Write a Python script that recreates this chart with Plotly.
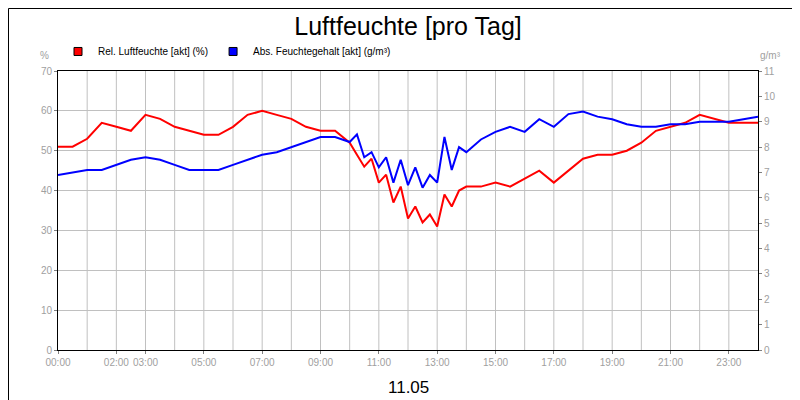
import plotly.graph_objects as go

hours = [0, 0.5, 1, 1.5, 2, 2.5, 3, 3.5, 4, 4.5, 5, 5.5, 6, 6.5, 7, 7.5, 8, 8.5, 9, 9.5, 10,
         10.25, 10.5, 10.75, 11, 11.25, 11.5, 11.75, 12, 12.25, 12.5, 12.75, 13, 13.25, 13.5, 13.75, 14,
         14.5, 15, 15.5, 16, 16.5, 17, 17.5, 18, 18.5, 19, 19.5, 20, 20.5, 21, 21.5, 22, 22.5, 23, 23.5, 24]
rel_humidity = [51, 51, 53, 57, 56, 55, 59, 58, 56, 55, 54, 54, 56, 59, 60, 59, 58, 56, 55, 55, 52,
                49, 46, 48, 42, 44, 37, 41, 33, 36, 32, 34, 31, 39, 36, 40, 41,
                41, 42, 41, 43, 45, 42, 45, 48, 49, 49, 50, 52, 55, 56, 57, 59, 58, 57, 57, 57]
abs_humidity = [6.9, 7.0, 7.1, 7.1, 7.3, 7.5, 7.6, 7.5, 7.3, 7.1, 7.1, 7.1, 7.3, 7.5, 7.7, 7.8, 8.0, 8.2, 8.4, 8.4, 8.2,
                8.5, 7.6, 7.8, 7.2, 7.6, 6.6, 7.5, 6.5, 7.2, 6.4, 6.9, 6.6, 8.4, 7.1, 8.0, 7.8,
                8.3, 8.6, 8.8, 8.6, 9.1, 8.8, 9.3, 9.4, 9.2, 9.1, 8.9, 8.8, 8.8, 8.9, 8.9, 9.0, 9.0, 9.0, 9.1, 9.2]
tick_hours = [0, 2, 3, 5, 7, 9, 11, 13, 15, 17, 19, 21, 23]
tick_labels = ['%02d:00' % h for h in tick_hours]

fig = go.Figure()
fig.add_trace(go.Scatter(x=hours, y=rel_humidity, mode='lines', line={'color': '#ff0000', 'width': 2},
                         showlegend=False))
fig.add_trace(go.Scatter(x=hours, y=abs_humidity, mode='lines', line={'color': '#0000ff', 'width': 2},
                         yaxis='y2', showlegend=False))
# legend entries as squares
for name, col in [('Rel. Luftfeuchte [akt] (%)', '#ff0000'), ('Abs. Feuchtegehalt [akt] (g/m³)', '#0000ff')]:
    fig.add_trace(go.Scatter(x=[None], y=[None], mode='markers', name=name,
                             marker={'symbol': 'square', 'size': 8, 'color': col,
                                     'line': {'color': 'black', 'width': 1}}))

grid = '#c0c0c0'
fig.update_layout(
    width=800, height=400, margin={'l': 50, 'r': 50, 't': 63, 'b': 58, 'autoexpand': False},
    paper_bgcolor='white', plot_bgcolor='white',
    font={'family': 'Arial, Liberation Sans', 'size': 10, 'color': '#a0a0a0'},
    title={'text': 'Luftfeuchte [pro Tag]', 'x': 0.5, 'y': 0.955, 'xanchor': 'center', 'yanchor': 'middle',
           'font': {'size': 25, 'color': 'black'}},
    legend={'orientation': 'h', 'x': 0.0, 'y': 1.07, 'xanchor': 'left', 'yanchor': 'middle',
            'font': {'size': 10, 'color': 'black'}, 'itemwidth': 30, 'tracegroupgap': 0,
            'bgcolor': 'rgba(0,0,0,0)'},
    xaxis={'range': [0, 24], 'tickvals': tick_hours, 'ticktext': tick_labels, 'showgrid': False,
           'showline': True, 'linecolor': 'black', 'mirror': True, 'zeroline': False,
           'ticks': 'outside', 'ticklen': 3, 'tickcolor': '#808080'},
    yaxis={'range': [0, 70], 'dtick': 10, 'gridcolor': grid, 'showline': True, 'linecolor': 'black',
           'zeroline': False, 'ticks': 'outside', 'ticklen': 3, 'tickcolor': '#808080'},
    yaxis2={'range': [0, 11], 'dtick': 1, 'overlaying': 'y', 'side': 'right', 'showgrid': False,
            'showline': True, 'linecolor': 'black', 'zeroline': False,
            'ticks': 'outside', 'ticklen': 3, 'tickcolor': '#808080'},
    annotations=[
        {'text': '%', 'xref': 'paper', 'yref': 'paper', 'x': -0.01, 'y': 1.057, 'showarrow': False,
         'xanchor': 'right', 'yanchor': 'middle', 'font': {'size': 10, 'color': '#a0a0a0'}},
        {'text': 'g/m³', 'xref': 'paper', 'yref': 'paper', 'x': 1.0, 'y': 1.057, 'showarrow': False,
         'xanchor': 'left', 'yanchor': 'middle', 'font': {'size': 10, 'color': '#a0a0a0'}},
        {'text': '11.05', 'xref': 'paper', 'yref': 'paper', 'x': 0.5, 'y': -0.136, 'showarrow': False,
         'yanchor': 'middle', 'font': {'size': 17, 'color': 'black'}},
    ],
)
# hourly vertical grid
for h in range(1, 24):
    fig.add_vline(x=h, line={'color': grid, 'width': 1}, layer='below')
# outer black frame
fig.add_shape(type='rect', xref='paper', yref='paper', x0=-49.5 / 700, x1=749.5 / 700,
              y0=-57.5 / 279, y1=1 + 62.5 / 279, line={'color': 'black', 'width': 1})
fig.write_html('out.html')
